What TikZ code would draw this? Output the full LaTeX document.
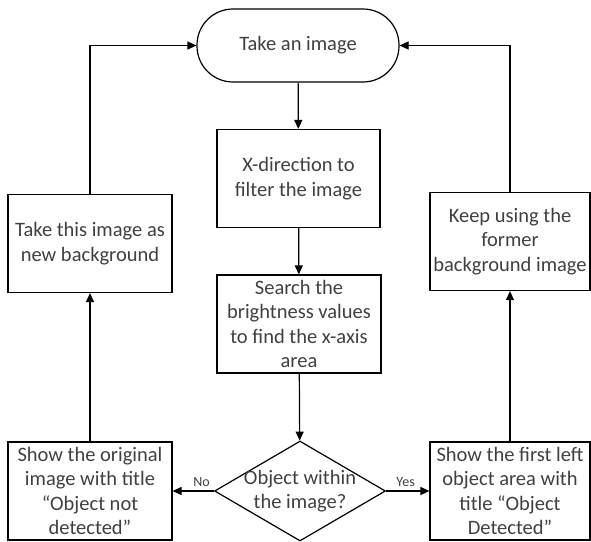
\documentclass[tikz,border=0pt]{standalone}
\usepackage{fontspec}
\setmainfont{Carlito}
\usepackage{tikz}
\usetikzlibrary{arrows.meta,shapes.geometric}
\definecolor{txtgray}{gray}{0.25}

\begin{document}
\begin{tikzpicture}[x=1pt, y=-1pt, line width=1.2pt,
		>={Triangle[length=9pt,width=8pt]},
		every node/.style={font=\fontsize{20.5}{24.4}\selectfont, text=txtgray, align=center},
		box/.style={draw, minimum width=164pt, minimum height=98pt, inner sep=0pt},
		term/.style={draw, rounded corners=36pt, minimum width=202pt, minimum height=73pt},
		decide/.style={draw, diamond, minimum width=171pt, minimum height=100pt, inner sep=0pt},
		lab/.style={font=\fontsize{14}{16}\selectfont, above}]
			\useasboundingbox (0,0) rectangle (591,541);
			\node[term] (img) at (298,45.5) {Take an image};
			\node[box, minimum width=163pt] (filt) at (298.5,178.5) {X-direction to\\filter the image};
			\node[box] (srch) at (299,324) {Search the\\brightness values\\to find the x-axis\\area};
			\node[decide, label={center:{Object within\\the image?}}] (obj) at (300,491) {};
			\node[box] (newbg) at (90,243.5) {Take this image as\\new background};
			\node[box, minimum width=160pt] (keepbg) at (510,241.5) {Keep using the\\former\\background image};
			\node[box] (nodet) at (90,491) {Show the original\\image with title\\``Object not\\detected''};
			\node[box, minimum width=160pt] (det) at (510,491) {Show the first left\\object area with\\title ``Object\\Detected''};
			\path[->]
			(img) edge (filt)
			(filt) edge (srch)
			(srch) edge (obj)
			(obj) edge node[lab, pos=0.3]{No} (nodet)
				edge node[lab, pos=0.45]{Yes} (det)
			(nodet) edge (newbg)
			(det) edge (keepbg);
			\draw[->] (newbg) |- (img);
			\draw[->] (keepbg) |- (img);
		\end{tikzpicture}
\end{document}
